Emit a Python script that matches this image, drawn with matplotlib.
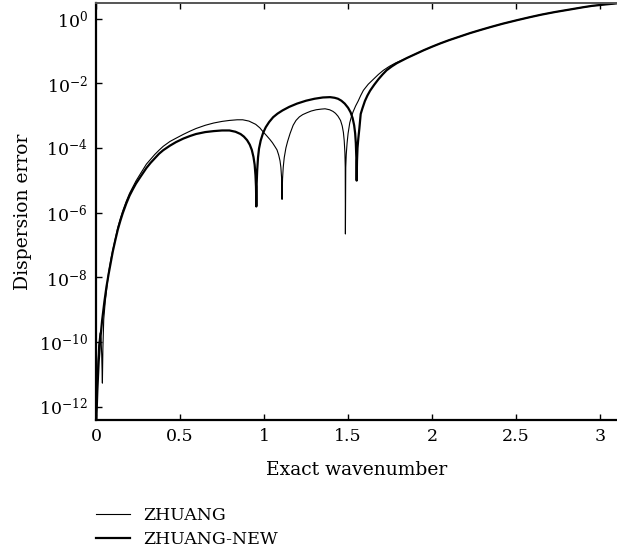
import numpy as np
import matplotlib
matplotlib.use("Agg")
import matplotlib.pyplot as plt
from matplotlib.ticker import FixedLocator, FuncFormatter

# ---- data (wavenumber, log10 of dispersion error) ----
k_zhuang = [0.001, 0.008, 0.016, 0.024, 0.030, 0.034, 0.038, 0.041, 0.046, 0.055,
            0.075, 0.09, 0.1, 0.115, 0.13, 0.145, 0.159, 0.18, 0.2, 0.22,
            0.238, 0.27, 0.3, 0.325, 0.35, 0.375, 0.4, 0.44, 0.476, 0.52,
            0.56, 0.595, 0.65, 0.7, 0.75, 0.794, 0.84, 0.873, 0.91, 0.95,
            0.975, 0.994, 1.015, 1.035, 1.05, 1.065, 1.077, 1.087, 1.095, 1.1,
            1.104, 1.107, 1.110, 1.114, 1.12, 1.13, 1.14, 1.155, 1.173, 1.19,
            1.21, 1.23, 1.256, 1.28, 1.31, 1.34, 1.363, 1.39, 1.41, 1.425,
            1.44, 1.455, 1.465, 1.472, 1.477, 1.481, 1.483, 1.484, 1.486, 1.489,
            1.494, 1.5, 1.51, 1.52, 1.53, 1.545, 1.56, 1.575, 1.591, 1.62,
            1.65, 1.68, 1.71, 1.745, 1.78, 1.815, 1.85, 1.9, 1.95, 2.0,
            2.048, 2.1, 2.14, 2.18, 2.226, 2.29, 2.35, 2.42, 2.506, 2.58,
            2.65, 2.73, 2.821, 2.9, 2.95, 3.02, 3.1]
log_err_zhuang = [-12.5, -11.0, -10.1, -9.72, -9.9, -10.4, -11.27, -10.2, -9.3, -8.75,
                  -7.85, -7.4, -7.15, -6.8, -6.45, -6.18, -5.95, -5.65, -5.4, -5.2,
                  -5.02, -4.75, -4.5, -4.35, -4.2, -4.07, -3.95, -3.8, -3.7, -3.58,
                  -3.48, -3.4, -3.3, -3.23, -3.18, -3.15, -3.13, -3.13, -3.17, -3.27,
                  -3.38, -3.5, -3.62, -3.74, -3.84, -3.96, -4.06, -4.22, -4.4, -4.6,
                  -4.9, -5.59, -4.95, -4.6, -4.3, -4.0, -3.8, -3.55, -3.3, -3.15,
                  -3.04, -2.97, -2.91, -2.86, -2.82, -2.8, -2.79, -2.82, -2.87, -2.93,
                  -3.02, -3.15, -3.32, -3.52, -3.78, -4.15, -4.6, -6.66, -4.6, -4.2,
                  -3.85, -3.55, -3.22, -3.03, -2.88, -2.7, -2.55, -2.38, -2.22, -2.03,
                  -1.88, -1.73, -1.6, -1.48, -1.38, -1.3, -1.22, -1.1, -0.98, -0.87,
                  -0.77, -0.67, -0.6, -0.53, -0.45, -0.35, -0.26, -0.16, -0.05, 0.04,
                  0.12, 0.2, 0.28, 0.35, 0.39, 0.43, 0.47]

k_zhuang_new = [0.002, 0.008, 0.016, 0.024, 0.036, 0.05, 0.062, 0.075, 0.09, 0.1,
                0.115, 0.13, 0.145, 0.159, 0.18, 0.2, 0.22, 0.238, 0.27, 0.3,
                0.325, 0.35, 0.375, 0.4, 0.44, 0.476, 0.52, 0.56, 0.595, 0.65,
                0.7, 0.75, 0.794, 0.83, 0.86, 0.88, 0.899, 0.915, 0.927, 0.937,
                0.944, 0.949, 0.952, 0.954, 0.956, 0.959, 0.964, 0.97, 0.98, 0.994,
                1.01, 1.03, 1.054, 1.08, 1.11, 1.15, 1.196, 1.25, 1.3, 1.35,
                1.393, 1.42, 1.44, 1.46, 1.48, 1.5, 1.515, 1.527, 1.536, 1.542,
                1.546, 1.549, 1.551, 1.553, 1.556, 1.561, 1.567, 1.575, 1.585, 1.6,
                1.615, 1.631, 1.655, 1.68, 1.705, 1.729, 1.76, 1.79, 1.82, 1.85,
                1.9, 1.95, 2.0, 2.048, 2.1, 2.14, 2.18, 2.226, 2.29, 2.35,
                2.42, 2.506, 2.58, 2.65, 2.73, 2.821, 2.9, 2.95, 3.02, 3.1]
log_err_zhuang_new = [-12.4, -11.5, -10.6, -10.0, -9.35, -8.75, -8.3, -7.9, -7.48, -7.2,
                      -6.85, -6.52, -6.25, -6.02, -5.72, -5.47, -5.27, -5.1, -4.85, -4.62,
                      -4.46, -4.32, -4.18, -4.07, -3.93, -3.82, -3.71, -3.63, -3.57, -3.51,
                      -3.48, -3.46, -3.46, -3.5, -3.57, -3.65, -3.76, -3.9, -4.06, -4.28,
                      -4.52, -4.85, -5.2, -5.81, -5.1, -4.7, -4.3, -4.02, -3.77, -3.54,
                      -3.36, -3.2, -3.05, -2.94, -2.84, -2.73, -2.63, -2.54, -2.48, -2.44,
                      -2.43, -2.45, -2.48, -2.54, -2.63, -2.76, -2.9, -3.08, -3.3, -3.55,
                      -3.85, -4.3, -5.01, -4.4, -4.0, -3.7, -3.4, -2.95, -2.78, -2.55,
                      -2.38, -2.23, -2.05, -1.88, -1.73, -1.6, -1.48, -1.38, -1.3, -1.22,
                      -1.1, -0.98, -0.87, -0.77, -0.67, -0.6, -0.53, -0.45, -0.35, -0.26,
                      -0.16, -0.05, 0.04, 0.12, 0.2, 0.28, 0.35, 0.39, 0.43, 0.47]

series_labels = ["ZHUANG", "ZHUANG-NEW"]
x_ticks = [0, 0.5, 1, 1.5, 2, 2.5, 3]
x_tick_labels = ["0", "0.5", "1", "1.5", "2", "2.5", "3"]
y_tick_exponents = [0, -2, -4, -6, -8, -10, -12]

# ---- style ----
plt.rcParams["font.family"] = ["DejaVu Serif"]
plt.rcParams["mathtext.fontset"] = "dejavuserif"
FS = 12.5
FS_LABEL = 13.5

fig = plt.figure(figsize=(6.17, 5.58), dpi=100)
ax = fig.add_axes([96 / 617, 1 - 420 / 558, 1 - 96 / 617, (420 - 3) / 558])

ax.plot(k_zhuang, np.power(10.0, log_err_zhuang), color="black", lw=0.8,
        label=series_labels[0])
ax.plot(k_zhuang_new, np.power(10.0, log_err_zhuang_new), color="black", lw=1.6,
        label=series_labels[1])

ax.set_yscale("log")
ax.set_xlim(0, 3.1)
ax.set_ylim(10 ** -12.41, 10 ** 0.48)

ax.xaxis.set_major_locator(FixedLocator(x_ticks))
ax.set_xticklabels(x_tick_labels)
ax.yaxis.set_major_locator(FixedLocator([10.0 ** e for e in y_tick_exponents]))
ax.yaxis.set_minor_locator(FixedLocator([]))
ax.yaxis.set_major_formatter(FuncFormatter(
    lambda v, p: r"$10^{%d}$" % int(round(np.log10(v)))))

ax.tick_params(axis="both", which="major", direction="in", length=4, width=1,
               labelsize=FS, pad=6, top=True, right=False, color="black")

ax.spines["right"].set_visible(False)
ax.spines["top"].set_color("#555555")
ax.spines["top"].set_linewidth(1.4)
for s in ("left", "bottom"):
    ax.spines[s].set_linewidth(1.6)
    ax.spines[s].set_color("black")

ax.set_xlabel("Exact wavenumber", fontsize=FS_LABEL, labelpad=11)
ax.set_ylabel("Dispersion error", fontsize=FS_LABEL, labelpad=5)

handles, labels = ax.get_legend_handles_labels()
fig.legend(handles, labels, loc="upper left",
           bbox_to_anchor=(96 / 617, 1 - 507 / 558), frameon=False,
           fontsize=FS, handlelength=1.95, handletextpad=0.75,
           labelspacing=0.4, borderpad=0, borderaxespad=0)

fig.savefig("out.png", dpi=100)
